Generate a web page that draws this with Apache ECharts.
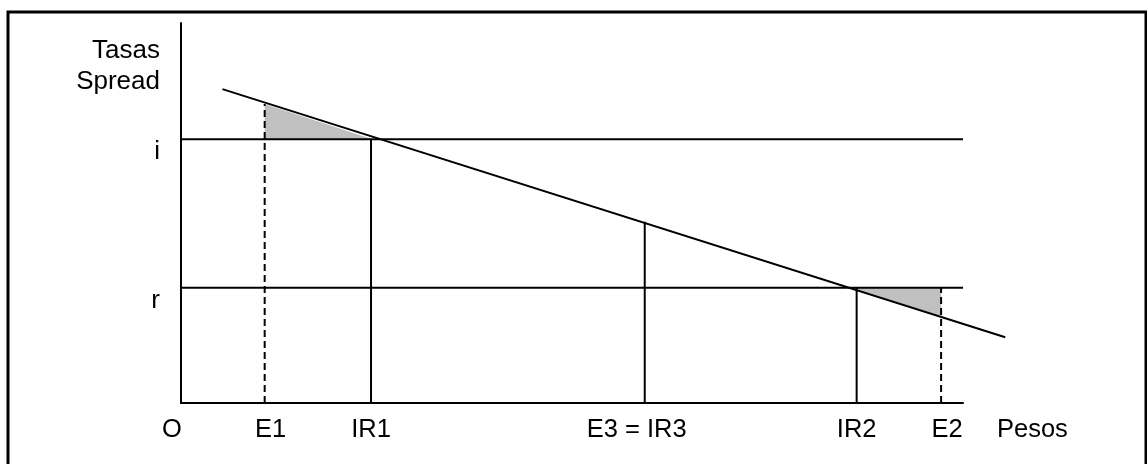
<!DOCTYPE html>
<html>
<head>
<meta charset="utf-8">
<script src="https://cdn.jsdelivr.net/npm/echarts@6/dist/echarts.min.js"></script>
<style>
html,body{margin:0;padding:0;background:#fff;}
#chart{width:1147px;height:464px;}
</style>
</head>
<body>
<div id="chart"></div>
<script>
// ---- data ----
const xTickNames  = ['O', 'E1', 'IR1', 'E3 = IR3', 'IR2', 'E2'];
const xTickValues = [0, 10.7, 24.3, 59.3, 86.4, 97.2];
const yTickNames  = ['r', 'i'];
const yTickValues = [30.3, 69.4];
const xAxisName = 'Pesos';
const yAxisName = 'Tasas\nSpread';

const demandLine = [[5.3, 82.6], [105.4, 17.3]];       // downward sloping line
const rateI = 69.4, rateR = 30.3;
const solidVerticals  = [[24.3, rateI], [59.3, 47.7], [86.4, rateR]]; // [x, top]
const dashedVerticals = [[10.7, 78.7], [97.2, rateR]];
const shade1 = [[10.7, 69.4], [10.7, 78.7], [24.5, 69.4]];
const shade2 = [[85.9, 30.3], [97.2, 30.3], [97.2, 22.9]];

// ---- chart ----
const FONT = 'Liberation Sans, Arial, sans-serif';
const FS = 25.5;
const chart = echarts.init(document.getElementById('chart'));

const xLabelRich = {
  'O': {padding: [0, 18, 0, 0]},
  'E1': {padding: [0, 0, 0, 12]},
  'E3 = IR3': {padding: [0, 16, 0, 0]},
  'E2': {padding: [0, 0, 0, 12]}
};
const richX = {};
const keyOf = n => 'k' + xTickNames.indexOf(n);
xTickNames.forEach(n => {
  richX[keyOf(n)] = Object.assign({fontSize: FS, fontFamily: FONT, color: '#000'}, xLabelRich[n] || {});
});

const series = [];
series.push({
  type: 'custom',
  coordinateSystem: 'cartesian2d',
  data: [0, 1],
  z: 1,
  renderItem: function (params, api) {
    const poly = params.dataIndex === 0 ? shade1 : shade2;
    return {
      type: 'polygon',
      shape: {points: poly.map(p => api.coord(p))},
      style: {fill: '#c0c0c0', stroke: null}
    };
  },
  silent: true
});
series.push({
  type: 'custom',
  coordinateSystem: 'cartesian2d',
  data: [0],
  z: 5,
  clip: false,
  renderItem: function (params, api) {
    const a = api.coord(demandLine[0]), b = api.coord(demandLine[1]);
    return {
      type: 'line',
      shape: {x1: a[0], y1: a[1], x2: b[0], y2: b[1]},
      style: {stroke: '#000', lineWidth: 2}
    };
  },
  silent: true
});
[rateI, rateR].forEach(v => series.push({
  type: 'line', data: [[0, v], [100, v]], symbol: 'none', z: 4,
  lineStyle: {color: '#000', width: 2}
}));
solidVerticals.forEach(p => series.push({
  type: 'line', data: [[p[0], 0], [p[0], p[1]]], symbol: 'none', z: 4,
  lineStyle: {color: '#000', width: 2}
}));
dashedVerticals.forEach(p => series.push({
  type: 'line', data: [[p[0], 0], [p[0], p[1]]], symbol: 'none', z: 4,
  lineStyle: {color: '#000', width: 2, type: [7, 4]}
}));

chart.setOption({
  animation: false,
  backgroundColor: '#fff',
  textStyle: {fontFamily: FONT},
  grid: {left: 181, top: 23, width: 782, height: 380},
  xAxis: {
    type: 'value', min: 0, max: 100,
    splitLine: {show: false},
    axisTick: {show: false},
    axisLine: {lineStyle: {color: '#000', width: 2}},
    axisLabel: {
      customValues: xTickValues,
      margin: 14,
      formatter: function (v) {
        const i = xTickValues.indexOf(v);
        const n = i >= 0 ? xTickNames[i] : '';
        return '{' + keyOf(n) + '|' + n + '}';
      },
      rich: richX,
      fontSize: FS, color: '#000', fontFamily: FONT
    },
    name: '{p|' + xAxisName + '}',
    nameLocation: 'end',
    nameGap: 34,
    nameTextStyle: {
      fontSize: FS, color: '#000', fontFamily: FONT, align: 'left', verticalAlign: 'middle',
      rich: {p: {fontSize: FS, color: '#000', fontFamily: FONT, padding: [54, 0, 0, 0]}}
    }
  },
  yAxis: {
    type: 'value', min: 0, max: 100,
    splitLine: {show: false},
    axisTick: {show: false},
    axisLine: {lineStyle: {color: '#000', width: 2}},
    axisLabel: {
      customValues: yTickValues,
      margin: 21,
      formatter: function (v) {
        const i = yTickValues.indexOf(v);
        return '{a|' + (i >= 0 ? yTickNames[i] : '') + '}';
      },
      rich: {a: {fontSize: 26, color: '#000', fontFamily: FONT, padding: [26, 0, 0, 0]}},
      fontSize: 26, color: '#000', fontFamily: FONT
    },
    name: yAxisName,
    nameLocation: 'end',
    nameGap: -12,
    nameTextStyle: {fontSize: 26, lineHeight: 31, color: '#000', fontFamily: FONT, align: 'right', verticalAlign: 'top', padding: [0, 21, 0, 0]}
  },
  graphic: [{
    type: 'rect',
    shape: {x: 8, y: 12, width: 1138, height: 470},
    style: {fill: null, stroke: '#000', lineWidth: 3},
    silent: true
  }],
  series: series
});
</script>
</body>
</html>
